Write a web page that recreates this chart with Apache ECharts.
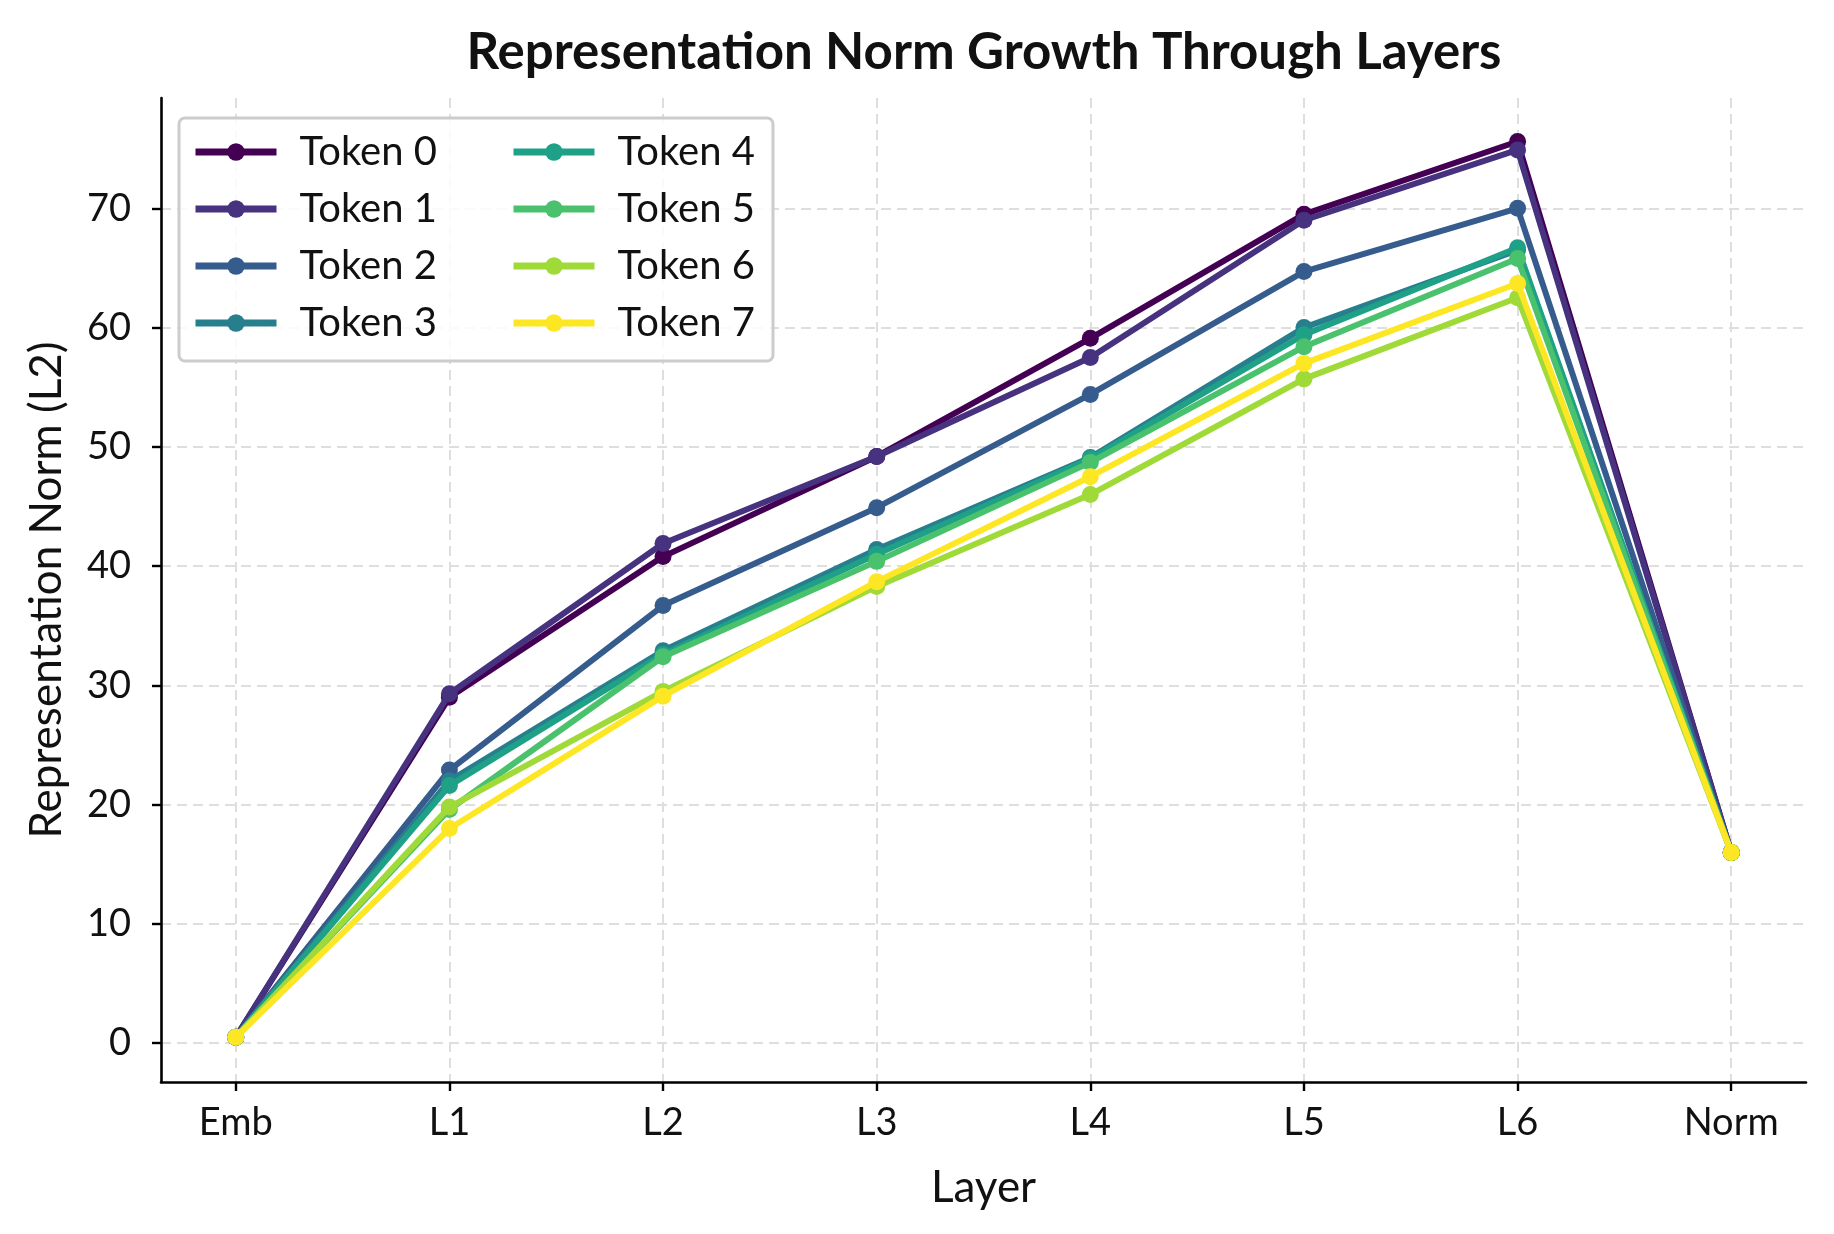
<!DOCTYPE html>
<html>
	<head>
		<meta charset="utf-8">
		<title>chart</title>
		<script src="https://cdn.jsdelivr.net/npm/echarts@6/dist/echarts.min.js"></script>
		<style>
			html, body { margin: 0; padding: 0; background: #fff; }
			#x { width: 1834px; height: 1234px; }
		</style>
	</head>
	<body>
		<div id="x"></div>
	</body>

	<script type="text/javascript">
		// layers on the x axis
		var layers = ['Emb', 'L1', 'L2', 'L3', 'L4', 'L5', 'L6', 'Norm'];
		var yTicks = [0, 10, 20, 30, 40, 50, 60, 70];
		var tokenNames = ['Token 0', 'Token 1', 'Token 2', 'Token 3', 'Token 4', 'Token 5', 'Token 6', 'Token 7'];
		var colors = ['#440154', '#46327e', '#365c8d', '#277f8e', '#1fa187', '#4ac16d', '#a0da39', '#fde725'];

		// norm per layer, one array per token
		var token0 = [0.5, 29.0, 40.8, 49.2, 59.1, 69.5, 75.6, 16.0];
		var token1 = [0.5, 29.3, 41.9, 49.2, 57.5, 69.0, 74.9, 16.0];
		var token2 = [0.5, 22.9, 36.7, 44.9, 54.4, 64.7, 70.0, 16.0];
		var token3 = [0.5, 22.0, 32.9, 41.4, 49.1, 60.0, 66.5, 16.0];
		var token4 = [0.5, 21.6, 32.6, 41.0, 49.0, 59.4, 66.7, 16.0];
		var token5 = [0.5, 19.6, 32.4, 40.4, 48.7, 58.4, 65.8, 16.0];
		var token6 = [0.5, 19.8, 29.5, 38.3, 46.0, 55.7, 62.5, 16.0];
		var token7 = [0.5, 18.0, 29.1, 38.7, 47.5, 57.0, 63.7, 16.0];
		var tokens = [token0, token1, token2, token3, token4, token5, token6, token7];

		var font = 'Lato';
		var series = [];
		for (var i = 0; i < tokens.length; i++) {
			series.push({
				name: tokenNames[i],
				type: 'line',
				data: tokens[i].map(function(v, k){ return [k, v]; }),
				symbol: 'circle',
				symbolSize: 17,
				showSymbol: true,
				color: colors[i],
				lineStyle: { width: 6, color: colors[i] },
				itemStyle: { color: colors[i] },
				emphasis: { disabled: true },
				z: 2 + i * 0.01
			});
		}

		function legendBlock(names, left) {
			return {
				orient: 'vertical',
				left: left,
				top: 132,
				padding: 0,
				data: names,
				itemWidth: 81,
				itemHeight: 22,
				itemGap: 17,
				lineStyle: { width: 7 },
				textStyle: { fontFamily: font, fontSize: 40, lineHeight: 36, color: '#111', padding: [0, 0, 0, 18] },
				selectedMode: false
			};
		}

		var option = {
			backgroundColor: '#fff',
			animation: false,
			title: {
				text: 'Representation Norm Growth Through Layers',
				left: 979,
				textAlign: 'center',
				top: 22,
				textStyle: { fontFamily: font, fontSize: 51, fontWeight: 'bold', color: '#111' }
			},
			legend: [
				legendBlock(tokenNames.slice(0, 4), 192),
				legendBlock(tokenNames.slice(4), 510)
			],
			graphic: [{
				type: 'rect',
				z: 3,
				shape: { x: 179, y: 118, width: 594, height: 243, r: 6 },
				style: { fill: 'rgba(255,255,255,0.85)', stroke: '#cccccc', lineWidth: 3 }
			}],
			grid: { left: 161, right: 28, top: 98, bottom: 152, containLabel: false },
			xAxis: {
				type: 'value',
				min: -0.35,
				max: 7.35,
				name: 'Layer',
				nameLocation: 'middle',
				nameGap: 84,
				nameTextStyle: { fontFamily: font, fontSize: 44, color: '#111' },
				axisLine: { show: true, onZero: false, lineStyle: { color: '#000', width: 2.6 } },
				axisTick: { show: true, length: 9, lineStyle: { color: '#000', width: 2.4 }, customValues: layers.map(function(l, k){ return k; }) },
				axisLabel: {
					fontFamily: font, fontSize: 38, color: '#111', margin: 22,
					customValues: layers.map(function(l, k){ return k; }),
					formatter: function(v){ return layers[Math.round(v)]; }
				},
				splitLine: { show: true, lineStyle: { color: '#dedede', width: 2, type: [10, 6] } }
			},
			yAxis: {
				type: 'value',
				min: -3.25,
				max: 79.25,
				name: 'Representation Norm (L2)',
				nameLocation: 'middle',
				nameGap: 92,
				nameTextStyle: { fontFamily: font, fontSize: 44, color: '#111' },
				axisLine: { show: true, onZero: false, lineStyle: { color: '#000', width: 2.6 } },
				axisTick: { show: true, length: 9, lineStyle: { color: '#000', width: 2.4 }, customValues: yTicks },
				axisLabel: { fontFamily: font, fontSize: 38, color: '#111', margin: 30, customValues: yTicks },
				splitLine: { show: true, lineStyle: { color: '#dedede', width: 2, type: [10, 6] } }
			},
			series: series
		};

		var chart = echarts.init(document.getElementById('x'));
		chart.setOption(option);
	</script>
</html>
